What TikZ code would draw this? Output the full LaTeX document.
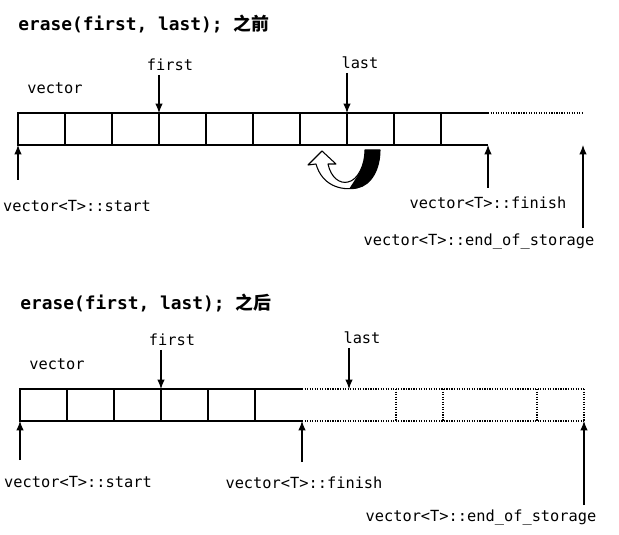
\documentclass[tikz,border=0pt]{standalone}
\usepackage{fontspec}
\setmonofont{DejaVu Sans Mono}
\newfontfamily\cjk{Noto Sans CJK SC}
\usetikzlibrary{arrows.meta}

\tikzset{
  cell/.style={draw, line width=1pt, minimum width=35.25pt, minimum height=24pt,
    inner sep=0pt, outer sep=0pt, anchor=north west},
  opencell/.style={cell, draw=none},
  spare/.style={densely dotted, line width=0.9pt},
  ptr/.style={-{Latex[length=7pt,width=5.5pt]}, line width=0.8pt},
  lbl/.style={font=\ttfamily\fontsize{11.5}{13}\selectfont, inner sep=0pt},
  ttl/.style={font=\ttfamily\bfseries\fontsize{13.4}{15}\selectfont, anchor=west, inner sep=0pt}
}

\begin{document}
\begin{tikzpicture}[x=0.75pt,y=0.75pt,yscale=-1,xscale=1]
\useasboundingbox (0,0) rectangle (619,535);

%%%%%%%% before erase
% Text Node
\node[ttl] (title1) at (18,24) {erase(first, last); {\cjk\bfseries 之前}};
\node[lbl] (vec1) at (55,88) {vector};
\node[lbl] (first1) at (170,65) {first};
\node[lbl] (last1) at (360,63) {last};

% cells
\foreach \i in {1,...,9}
  \node[cell] (c\i) at ({18+47*(\i-1)},113) {};
\node[opencell] (c10) at (441,113) {};
\draw[line width=1pt] (c10.north west) -- (c10.north east) (c10.south west) -- (c10.south east);
% unused storage
\draw[spare] (c10.north east) -- ++(95,0);
\coordinate (eos1) at (583,145);

% pointers
\coordinate (f1) at (159,75);
\coordinate (l1) at (347,73);
\coordinate (s1) at (18,180);
\coordinate (n1) at (488,188);
\coordinate (e1) at (583,228);
\draw[ptr] (f1) -- (c4.north west);
\draw[ptr] (l1) -- (c8.north west);
\draw[ptr] (s1) -- (c1.south west);
\draw[ptr] (n1) -- (c10.south east);
\draw[ptr] (e1) -- (eos1);

\node[lbl] (start1) at (77,206) {vector<T>::start};
\node[lbl] (finish1) at (488,203) {vector<T>::finish};
\node[lbl] (storage1) at (479,241) {vector<T>::end\_of\_storage};

% moving arrow
\def\movearrow{(322,151) -- (336,164) -- (328,164)
  .. controls (331,178) and (340,184) .. (348,182)
  .. controls (358,180) and (365,165) .. (365,150)
  -- (380,150)
  .. controls (380,168) and (372,185) .. (357,188)
  .. controls (340,191) and (322,185) .. (316,164)
  -- (308,165) -- cycle}
\fill[white] \movearrow;
\begin{scope}
  \clip \movearrow;
  \fill[black] (360,140) -- (360,172) -- (342,200) -- (400,200) -- (400,140) -- cycle;
\end{scope}
\draw[line width=0.8pt, line join=round] \movearrow;

%%%%%%%% after erase
% Text Node
\node[ttl] (title2) at (20,303) {erase(first, last); {\cjk\bfseries 之后}};
\node[lbl] (vec2) at (57,364) {vector};
\node[lbl] (first2) at (172,340) {first};
\node[lbl] (last2) at (362,338) {last};

% cells
\foreach \i in {1,...,5}
  \node[cell] (d\i) at ({20+47*(\i-1)},389) {};
\node[opencell] (d6) at (255,389) {};
\draw[line width=1pt] (d6.north west) -- (d6.north east) (d6.south west) -- (d6.south east);
% unused storage
\draw[spare] (d6.north east) -- ++(282,0) (d6.south east) -- ++(282,0);
\foreach \x in {396,443,537,584}
  \draw[spare] (\x,389) -- ++(0,32);
\coordinate (eos2) at (584,421);
\coordinate (lastpos) at (349,389);

% pointers
\coordinate (f2) at (161,350);
\coordinate (l2) at (349,348);
\coordinate (s2) at (20,460);
\coordinate (n2) at (302,462);
\coordinate (e2) at (584,505);
\draw[ptr] (f2) -- (d4.north west);
\draw[ptr] (l2) -- (lastpos);
\draw[ptr] (s2) -- (d1.south west);
\draw[ptr] (n2) -- (d6.south east);
\draw[ptr] (e2) -- (eos2);

\node[lbl] (start2) at (78,482) {vector<T>::start};
\node[lbl] (finish2) at (304,483) {vector<T>::finish};
\node[lbl] (storage2) at (481,517) {vector<T>::end\_of\_storage};

\end{tikzpicture}
\end{document}
